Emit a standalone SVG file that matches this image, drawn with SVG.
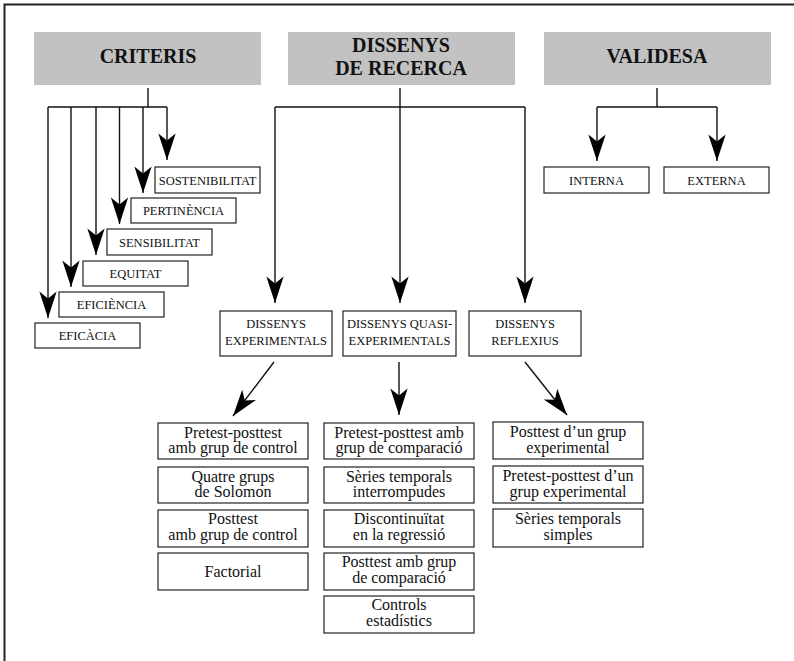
<svg xmlns="http://www.w3.org/2000/svg" width="794" height="661" viewBox="0 0 794 661">
<style>
.hdr{fill:#c2c2c2}
.ht{font-family:'Liberation Serif','DejaVu Serif',serif;font-weight:bold;font-size:20px;fill:#111;text-anchor:middle}
.box{fill:#fff;stroke:#222;stroke-width:1.2}
.st{font-family:'Liberation Serif','DejaVu Serif',serif;font-size:12.5px;fill:#111;text-anchor:middle}
.bt{font-family:'Liberation Serif','DejaVu Serif',serif;font-size:16px;fill:#111;text-anchor:middle}
.ln{fill:none;stroke:#111;stroke-width:1.4}
.arr{fill:none;stroke:#111;stroke-width:1.4;marker-end:url(#ah)}
</style>
<defs>
<marker id="ah" markerUnits="userSpaceOnUse" markerWidth="30" markerHeight="20" viewBox="-24 -8 26 16" refX="0" refY="0" orient="auto">
<path d="M0,0 L-23,-7.5 L-17,0 L-23,7.5 Z" fill="#000"/>
</marker>
</defs>
<rect x="0" y="0" width="794" height="661" fill="#fff"/>
<path d="M4.5,661 L4.5,4.5 L794,4.5" fill="none" stroke="#222" stroke-width="2"/>

<g id="criteris"><rect class="hdr" x="34" y="32" width="227" height="53"/><text class="ht" x="148" y="63">CRITERIS</text></g>
<g id="dissenys"><rect class="hdr" x="288" y="32" width="227" height="53"/><text class="ht" x="401" y="52">DISSENYS</text><text class="ht" x="401" y="75">DE RECERCA</text></g>
<g id="validesa"><rect class="hdr" x="544" y="32" width="227" height="53"/><text class="ht" x="657" y="63">VALIDESA</text></g>

<g id="sostenibilitat"><rect class="box" x="155" y="167" width="105" height="26"/><text class="st" x="207.5" y="184.5">SOSTENIBILITAT</text></g>
<g id="pertinencia"><rect class="box" x="131" y="198" width="105" height="25"/><text class="st" x="183.5" y="215">PERTINÈNCIA</text></g>
<g id="sensibilitat"><rect class="box" x="107" y="229" width="105" height="26"/><text class="st" x="159.5" y="246.5">SENSIBILITAT</text></g>
<g id="equitat"><rect class="box" x="83" y="261" width="105" height="25"/><text class="st" x="135.5" y="278">EQUITAT</text></g>
<g id="eficiencia"><rect class="box" x="59" y="292" width="105" height="25"/><text class="st" x="111.5" y="309">EFICIÈNCIA</text></g>
<g id="eficacia"><rect class="box" x="35" y="323" width="105" height="25"/><text class="st" x="87.5" y="340">EFICÀCIA</text></g>

<g id="interna"><rect class="box" x="544" y="167" width="105" height="26"/><text class="st" x="596.5" y="184.5">INTERNA</text></g>
<g id="externa"><rect class="box" x="664" y="167" width="105" height="26"/><text class="st" x="716.5" y="184.5">EXTERNA</text></g>

<g id="experimentals"><rect class="box" x="220" y="311" width="112" height="45"/><text class="st" x="276" y="328">DISSENYS</text><text class="st" x="276" y="345">EXPERIMENTALS</text></g>
<g id="quasi"><rect class="box" x="343" y="311" width="113" height="45"/><text class="st" x="399.5" y="328">DISSENYS QUASI-</text><text class="st" x="399.5" y="345">EXPERIMENTALS</text></g>
<g id="reflexius"><rect class="box" x="469" y="311" width="112" height="45"/><text class="st" x="525" y="328">DISSENYS</text><text class="st" x="525" y="345">REFLEXIUS</text></g>

<g id="e1"><rect class="box" x="158" y="423" width="150" height="36"/><text class="bt" x="233" y="437.5">Pretest-posttest</text><text class="bt" x="233" y="453">amb grup de control</text></g>
<g id="e2"><rect class="box" x="158" y="467" width="150" height="36"/><text class="bt" x="233" y="481.5">Quatre grups</text><text class="bt" x="233" y="497">de Solomon</text></g>
<g id="e3"><rect class="box" x="158" y="510" width="150" height="37"/><text class="bt" x="233" y="524">Posttest</text><text class="bt" x="233" y="540">amb grup de control</text></g>
<g id="e4"><rect class="box" x="158" y="553" width="150" height="37"/><text class="bt" x="233" y="576.5">Factorial</text></g>

<g id="q1"><rect class="box" x="324" y="423" width="150" height="36"/><text class="bt" x="399" y="437.5">Pretest-posttest amb</text><text class="bt" x="399" y="453">grup de comparació</text></g>
<g id="q2"><rect class="box" x="324" y="467" width="150" height="36"/><text class="bt" x="399" y="481.5">Sèries temporals</text><text class="bt" x="399" y="497">interrompudes</text></g>
<g id="q3"><rect class="box" x="324" y="510" width="150" height="37"/><text class="bt" x="399" y="524">Discontinuïtat</text><text class="bt" x="399" y="540">en la regressió</text></g>
<g id="q4"><rect class="box" x="324" y="553" width="150" height="37"/><text class="bt" x="399" y="567">Posttest amb grup</text><text class="bt" x="399" y="583">de comparació</text></g>
<g id="q5"><rect class="box" x="324" y="596" width="150" height="37"/><text class="bt" x="399" y="610">Controls</text><text class="bt" x="399" y="626">estadístics</text></g>

<g id="r1"><rect class="box" x="493" y="422" width="150" height="37"/><text class="bt" x="568" y="437">Posttest d’un grup</text><text class="bt" x="568" y="453">experimental</text></g>
<g id="r2"><rect class="box" x="493" y="466" width="150" height="37"/><text class="bt" x="568" y="481">Pretest-posttest d’un</text><text class="bt" x="568" y="497">grup experimental</text></g>
<g id="r3"><rect class="box" x="493" y="509" width="150" height="38"/><text class="bt" x="568" y="524">Sèries temporals</text><text class="bt" x="568" y="540">simples</text></g>

<g id="connectors">
<path class="ln" d="M148,88 V107 M48,107 H167"/>
<path class="arr" d="M167,107 V160"/>
<path class="arr" d="M143,107 V193"/>
<path class="arr" d="M119.5,107 V224"/>
<path class="arr" d="M96,107 V255"/>
<path class="arr" d="M71,107 V287"/>
<path class="arr" d="M48,107 V318"/>
<path class="ln" d="M275,107 H525"/>
<path class="arr" d="M400,88 V303"/>
<path class="arr" d="M275,107 V303"/>
<path class="arr" d="M525,107 V303"/>
<path class="ln" d="M657,88 V107 M597,107 H717"/>
<path class="arr" d="M597,107 V161"/>
<path class="arr" d="M717,107 V161"/>
<path class="arr" d="M274,362 L233,416"/>
<path class="arr" d="M399,362 V415"/>
<path class="arr" d="M525,362 L567,415"/>
</g>
</svg>
